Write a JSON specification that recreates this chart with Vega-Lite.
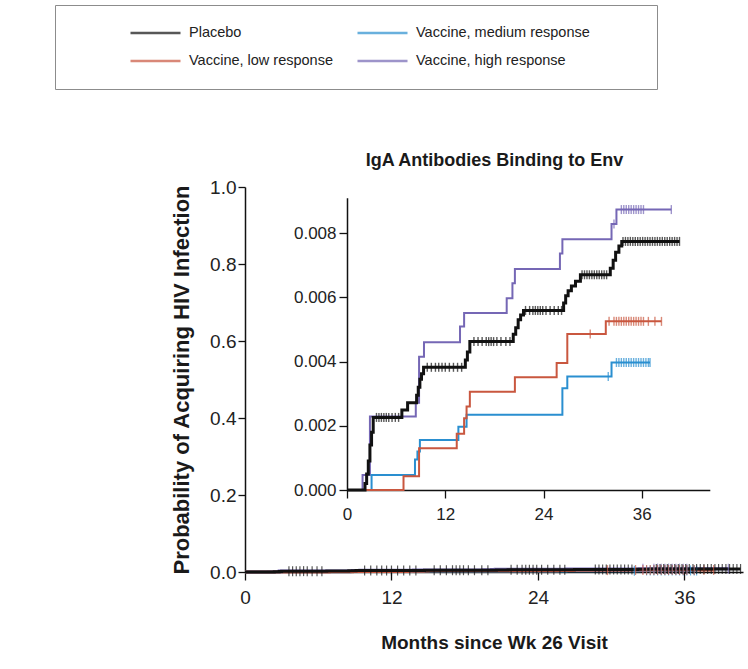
{
  "$schema": "https://vega.github.io/schema/vega-lite/v6.json",
  "width": 498,
  "height": 385,
  "autosize": "none",
  "padding": {"left": 245, "top": 187, "right": 5, "bottom": 97},
  "background": "white",
  "config": {
    "font": "Liberation Sans",
    "view": {"stroke": null},
    "axis": {
      "grid": false,
      "labelFont": "Liberation Sans",
      "titleFont": "Liberation Sans",
      "domainColor": "#111111",
      "tickColor": "#111111",
      "labelColor": "#222222",
      "titleColor": "#1a1a1a",
      "domainWidth": 1.5,
      "tickWidth": 1.3,
      "labelFlush": false,
      "labelOverlap": false
    }
  },
  "datasets": {
    "steps": [
      {"g": "Vaccine, high response", "m": 0, "p": 0},
      {"g": "Vaccine, high response", "m": 1.9, "p": 0.00047},
      {"g": "Vaccine, high response", "m": 2.8, "p": 0.00229},
      {"g": "Vaccine, high response", "m": 8.4, "p": 0.00272},
      {"g": "Vaccine, high response", "m": 8.8, "p": 0.00415},
      {"g": "Vaccine, high response", "m": 9.4, "p": 0.0046},
      {"g": "Vaccine, high response", "m": 13.8, "p": 0.00509},
      {"g": "Vaccine, high response", "m": 14.3, "p": 0.00551},
      {"g": "Vaccine, high response", "m": 19.5, "p": 0.00597},
      {"g": "Vaccine, high response", "m": 20.2, "p": 0.00644},
      {"g": "Vaccine, high response", "m": 20.5, "p": 0.00688},
      {"g": "Vaccine, high response", "m": 26.0, "p": 0.00736},
      {"g": "Vaccine, high response", "m": 26.3, "p": 0.00781},
      {"g": "Vaccine, high response", "m": 32.3, "p": 0.00828},
      {"g": "Vaccine, high response", "m": 32.9, "p": 0.00873},
      {"g": "Vaccine, high response", "m": 39.6, "p": 0.00873},
      {"g": "Vaccine, medium response", "m": 0, "p": 0},
      {"g": "Vaccine, medium response", "m": 3.0, "p": 0.00047},
      {"g": "Vaccine, medium response", "m": 8.3, "p": 0.00095},
      {"g": "Vaccine, medium response", "m": 8.6, "p": 0.0012},
      {"g": "Vaccine, medium response", "m": 8.9, "p": 0.00156},
      {"g": "Vaccine, medium response", "m": 13.6, "p": 0.00197},
      {"g": "Vaccine, medium response", "m": 14.6, "p": 0.00234},
      {"g": "Vaccine, medium response", "m": 26.3, "p": 0.00317},
      {"g": "Vaccine, medium response", "m": 26.9, "p": 0.00353},
      {"g": "Vaccine, medium response", "m": 32.3, "p": 0.00397},
      {"g": "Vaccine, medium response", "m": 37.0, "p": 0.00397},
      {"g": "Vaccine, low response", "m": 0, "p": 0},
      {"g": "Vaccine, low response", "m": 6.9, "p": 0.00043},
      {"g": "Vaccine, low response", "m": 8.8, "p": 0.0013},
      {"g": "Vaccine, low response", "m": 13.4, "p": 0.00175},
      {"g": "Vaccine, low response", "m": 14.3, "p": 0.00223},
      {"g": "Vaccine, low response", "m": 14.6, "p": 0.0026},
      {"g": "Vaccine, low response", "m": 15.0, "p": 0.00306},
      {"g": "Vaccine, low response", "m": 20.5, "p": 0.00351},
      {"g": "Vaccine, low response", "m": 25.6, "p": 0.00395},
      {"g": "Vaccine, low response", "m": 26.9, "p": 0.00486},
      {"g": "Vaccine, low response", "m": 31.6, "p": 0.00525},
      {"g": "Vaccine, low response", "m": 38.4, "p": 0.00525},
      {"g": "Placebo", "m": 0, "p": 0},
      {"g": "Placebo", "m": 2.2, "p": 0.0002},
      {"g": "Placebo", "m": 2.4, "p": 0.0005},
      {"g": "Placebo", "m": 2.6, "p": 0.0009},
      {"g": "Placebo", "m": 2.8, "p": 0.0014},
      {"g": "Placebo", "m": 3.0, "p": 0.0018},
      {"g": "Placebo", "m": 3.2, "p": 0.00226},
      {"g": "Placebo", "m": 6.7, "p": 0.00249},
      {"g": "Placebo", "m": 7.4, "p": 0.00272},
      {"g": "Placebo", "m": 8.5, "p": 0.00295},
      {"g": "Placebo", "m": 8.7, "p": 0.0032},
      {"g": "Placebo", "m": 8.9, "p": 0.00345},
      {"g": "Placebo", "m": 9.1, "p": 0.00362},
      {"g": "Placebo", "m": 9.35, "p": 0.00382},
      {"g": "Placebo", "m": 14.45, "p": 0.00405},
      {"g": "Placebo", "m": 14.7, "p": 0.0043},
      {"g": "Placebo", "m": 15.0, "p": 0.00462},
      {"g": "Placebo", "m": 20.3, "p": 0.00485},
      {"g": "Placebo", "m": 20.6, "p": 0.00505},
      {"g": "Placebo", "m": 20.9, "p": 0.0053},
      {"g": "Placebo", "m": 21.2, "p": 0.00545},
      {"g": "Placebo", "m": 21.55, "p": 0.00559},
      {"g": "Placebo", "m": 26.45, "p": 0.00582},
      {"g": "Placebo", "m": 26.7, "p": 0.00605},
      {"g": "Placebo", "m": 27.0, "p": 0.0062},
      {"g": "Placebo", "m": 27.4, "p": 0.00635},
      {"g": "Placebo", "m": 27.9, "p": 0.0065},
      {"g": "Placebo", "m": 28.5, "p": 0.0067},
      {"g": "Placebo", "m": 32.15, "p": 0.0069},
      {"g": "Placebo", "m": 32.5, "p": 0.00715},
      {"g": "Placebo", "m": 32.8, "p": 0.0074},
      {"g": "Placebo", "m": 33.2, "p": 0.0076},
      {"g": "Placebo", "m": 33.55, "p": 0.00774},
      {"g": "Placebo", "m": 40.6, "p": 0.00774}
    ],
    "censor": [
      {"g": "Vaccine, high response", "m": 32.6, "p": 0.00828},
      {"g": "Vaccine, high response", "m": 33.5, "p": 0.00873},
      {"g": "Vaccine, high response", "m": 33.8, "p": 0.00873},
      {"g": "Vaccine, high response", "m": 34.1, "p": 0.00873},
      {"g": "Vaccine, high response", "m": 34.4, "p": 0.00873},
      {"g": "Vaccine, high response", "m": 34.7, "p": 0.00873},
      {"g": "Vaccine, high response", "m": 35.0, "p": 0.00873},
      {"g": "Vaccine, high response", "m": 35.3, "p": 0.00873},
      {"g": "Vaccine, high response", "m": 35.6, "p": 0.00873},
      {"g": "Vaccine, high response", "m": 35.9, "p": 0.00873},
      {"g": "Vaccine, high response", "m": 36.2, "p": 0.00873},
      {"g": "Vaccine, high response", "m": 39.6, "p": 0.00873},
      {"g": "Vaccine, medium response", "m": 31.9, "p": 0.00353},
      {"g": "Vaccine, medium response", "m": 32.9, "p": 0.00397},
      {"g": "Vaccine, medium response", "m": 33.2, "p": 0.00397},
      {"g": "Vaccine, medium response", "m": 33.5, "p": 0.00397},
      {"g": "Vaccine, medium response", "m": 33.8, "p": 0.00397},
      {"g": "Vaccine, medium response", "m": 34.1, "p": 0.00397},
      {"g": "Vaccine, medium response", "m": 34.4, "p": 0.00397},
      {"g": "Vaccine, medium response", "m": 34.7, "p": 0.00397},
      {"g": "Vaccine, medium response", "m": 35.0, "p": 0.00397},
      {"g": "Vaccine, medium response", "m": 35.3, "p": 0.00397},
      {"g": "Vaccine, medium response", "m": 35.6, "p": 0.00397},
      {"g": "Vaccine, medium response", "m": 35.9, "p": 0.00397},
      {"g": "Vaccine, medium response", "m": 36.2, "p": 0.00397},
      {"g": "Vaccine, medium response", "m": 36.5, "p": 0.00397},
      {"g": "Vaccine, medium response", "m": 36.8, "p": 0.00397},
      {"g": "Vaccine, medium response", "m": 37.0, "p": 0.00397},
      {"g": "Vaccine, low response", "m": 29.7, "p": 0.00486},
      {"g": "Vaccine, low response", "m": 32.0, "p": 0.00525},
      {"g": "Vaccine, low response", "m": 32.6, "p": 0.00525},
      {"g": "Vaccine, low response", "m": 32.9, "p": 0.00525},
      {"g": "Vaccine, low response", "m": 33.2, "p": 0.00525},
      {"g": "Vaccine, low response", "m": 33.5, "p": 0.00525},
      {"g": "Vaccine, low response", "m": 33.8, "p": 0.00525},
      {"g": "Vaccine, low response", "m": 34.1, "p": 0.00525},
      {"g": "Vaccine, low response", "m": 34.4, "p": 0.00525},
      {"g": "Vaccine, low response", "m": 34.7, "p": 0.00525},
      {"g": "Vaccine, low response", "m": 35.0, "p": 0.00525},
      {"g": "Vaccine, low response", "m": 35.3, "p": 0.00525},
      {"g": "Vaccine, low response", "m": 35.6, "p": 0.00525},
      {"g": "Vaccine, low response", "m": 35.9, "p": 0.00525},
      {"g": "Vaccine, low response", "m": 36.2, "p": 0.00525},
      {"g": "Vaccine, low response", "m": 36.8, "p": 0.00525},
      {"g": "Vaccine, low response", "m": 37.6, "p": 0.00525},
      {"g": "Vaccine, low response", "m": 38.4, "p": 0.00525},
      {"g": "Placebo", "m": 3.6, "p": 0.00226},
      {"g": "Placebo", "m": 3.9, "p": 0.00226},
      {"g": "Placebo", "m": 4.2, "p": 0.00226},
      {"g": "Placebo", "m": 4.5, "p": 0.00226},
      {"g": "Placebo", "m": 4.8, "p": 0.00226},
      {"g": "Placebo", "m": 5.1, "p": 0.00226},
      {"g": "Placebo", "m": 5.5, "p": 0.00226},
      {"g": "Placebo", "m": 5.9, "p": 0.00226},
      {"g": "Placebo", "m": 6.3, "p": 0.00226},
      {"g": "Placebo", "m": 9.8, "p": 0.00382},
      {"g": "Placebo", "m": 10.3, "p": 0.00382},
      {"g": "Placebo", "m": 10.8, "p": 0.00382},
      {"g": "Placebo", "m": 11.2, "p": 0.00382},
      {"g": "Placebo", "m": 11.6, "p": 0.00382},
      {"g": "Placebo", "m": 12.0, "p": 0.00382},
      {"g": "Placebo", "m": 12.5, "p": 0.00382},
      {"g": "Placebo", "m": 13.0, "p": 0.00382},
      {"g": "Placebo", "m": 13.5, "p": 0.00382},
      {"g": "Placebo", "m": 14.0, "p": 0.00382},
      {"g": "Placebo", "m": 15.5, "p": 0.00462},
      {"g": "Placebo", "m": 16.0, "p": 0.00462},
      {"g": "Placebo", "m": 16.5, "p": 0.00462},
      {"g": "Placebo", "m": 17.0, "p": 0.00462},
      {"g": "Placebo", "m": 17.3, "p": 0.00462},
      {"g": "Placebo", "m": 17.6, "p": 0.00462},
      {"g": "Placebo", "m": 17.9, "p": 0.00462},
      {"g": "Placebo", "m": 18.3, "p": 0.00462},
      {"g": "Placebo", "m": 18.8, "p": 0.00462},
      {"g": "Placebo", "m": 19.4, "p": 0.00462},
      {"g": "Placebo", "m": 19.9, "p": 0.00462},
      {"g": "Placebo", "m": 21.8, "p": 0.00559},
      {"g": "Placebo", "m": 22.3, "p": 0.00559},
      {"g": "Placebo", "m": 22.7, "p": 0.00559},
      {"g": "Placebo", "m": 23.0, "p": 0.00559},
      {"g": "Placebo", "m": 23.3, "p": 0.00559},
      {"g": "Placebo", "m": 23.6, "p": 0.00559},
      {"g": "Placebo", "m": 23.9, "p": 0.00559},
      {"g": "Placebo", "m": 24.3, "p": 0.00559},
      {"g": "Placebo", "m": 24.8, "p": 0.00559},
      {"g": "Placebo", "m": 25.3, "p": 0.00559},
      {"g": "Placebo", "m": 25.8, "p": 0.00559},
      {"g": "Placebo", "m": 26.2, "p": 0.00559},
      {"g": "Placebo", "m": 28.7, "p": 0.0067},
      {"g": "Placebo", "m": 29.0, "p": 0.0067},
      {"g": "Placebo", "m": 29.3, "p": 0.0067},
      {"g": "Placebo", "m": 29.6, "p": 0.0067},
      {"g": "Placebo", "m": 29.9, "p": 0.0067},
      {"g": "Placebo", "m": 30.2, "p": 0.0067},
      {"g": "Placebo", "m": 30.5, "p": 0.0067},
      {"g": "Placebo", "m": 30.8, "p": 0.0067},
      {"g": "Placebo", "m": 31.1, "p": 0.0067},
      {"g": "Placebo", "m": 31.4, "p": 0.0067},
      {"g": "Placebo", "m": 31.7, "p": 0.0067},
      {"g": "Placebo", "m": 33.7, "p": 0.00774},
      {"g": "Placebo", "m": 34.0, "p": 0.00774},
      {"g": "Placebo", "m": 34.3, "p": 0.00774},
      {"g": "Placebo", "m": 34.6, "p": 0.00774},
      {"g": "Placebo", "m": 34.9, "p": 0.00774},
      {"g": "Placebo", "m": 35.2, "p": 0.00774},
      {"g": "Placebo", "m": 35.5, "p": 0.00774},
      {"g": "Placebo", "m": 35.8, "p": 0.00774},
      {"g": "Placebo", "m": 36.1, "p": 0.00774},
      {"g": "Placebo", "m": 36.4, "p": 0.00774},
      {"g": "Placebo", "m": 36.7, "p": 0.00774},
      {"g": "Placebo", "m": 37.0, "p": 0.00774},
      {"g": "Placebo", "m": 37.3, "p": 0.00774},
      {"g": "Placebo", "m": 37.6, "p": 0.00774},
      {"g": "Placebo", "m": 37.9, "p": 0.00774},
      {"g": "Placebo", "m": 38.2, "p": 0.00774},
      {"g": "Placebo", "m": 38.5, "p": 0.00774},
      {"g": "Placebo", "m": 38.8, "p": 0.00774},
      {"g": "Placebo", "m": 39.1, "p": 0.00774},
      {"g": "Placebo", "m": 39.4, "p": 0.00774},
      {"g": "Placebo", "m": 39.7, "p": 0.00774},
      {"g": "Placebo", "m": 40.0, "p": 0.00774},
      {"g": "Placebo", "m": 40.3, "p": 0.00774},
      {"g": "Placebo", "m": 40.6, "p": 0.00774}
    ]
  },
  "layer": [
    {
      "data": {"name": "steps"},
      "mark": {"type": "line", "interpolate": "step-after", "strokeWidth": 3},
      "encoding": {
        "x": {
          "field": "m", "type": "quantitative",
          "scale": {"domain": [0, 40.8], "nice": false},
          "axis": {
            "values": [0, 12, 24, 36],
            "labelFontSize": 19,
            "tickSize": 8,
            "labelPadding": 8,
            "title": "Months since Wk 26 Visit",
            "titleFontSize": 19,
            "titleFontWeight": "bold",
            "titleX": 249,
            "titleY": 76,
            "titleBaseline": "alphabetic"
          }
        },
        "y": {
          "field": "p", "type": "quantitative",
          "scale": {"domain": [0, 1], "nice": false},
          "axis": {
            "values": [0, 0.2, 0.4, 0.6, 0.8, 1.0],
            "format": ".1f",
            "labelFontSize": 19,
            "tickSize": 7,
            "labelPadding": 2,
            "title": "Probability of Acquiring HIV Infection",
            "titleFontSize": 22,
            "titleFontWeight": "bold",
            "titleX": -57,
            "titleY": 192.5,
            "titleAngle": 270,
            "titleAlign": "center",
            "titleBaseline": "alphabetic"
          }
        },
        "color": {
          "field": "g", "type": "nominal",
          "scale": {
            "domain": ["Placebo", "Vaccine, low response", "Vaccine, medium response", "Vaccine, high response"],
            "range": ["#111111", "#c9573f", "#2a8fd0", "#7567b5"]
          },
          "legend": {
            "orient": "none",
            "legendX": -190,
            "legendY": -182,
            "direction": "vertical",
            "columns": 2,
            "title": "\u200b\u00a0\u00a0\u00a0\u00a0\u00a0\u00a0\u00a0\u00a0\u00a0\u00a0\u00a0\u200b",
            "titleOrient": "left",
            "titlePadding": 0,
            "titleFontSize": 18,
            "strokeColor": "#8c8c8c",
            "padding": 18,
            "clipHeight": 20,
            "symbolType": "stroke",
            "symbolSize": 2500,
            "symbolStrokeWidth": 2.5,
            "labelFont": "Liberation Sans",
            "labelFontSize": 14.5,
            "labelColor": "#222222",
            "labelOffset": 7,
            "labelLimit": 400,
            "columnPadding": 22,
            "rowPadding": 8,
            "labelExpr": "(datum.label == 'Vaccine, medium response' || datum.label == 'Vaccine, high response') ? datum.label + '\u00a0\u00a0\u00a0\u00a0\u00a0\u00a0\u00a0\u00a0\u00a0\u00a0\u00a0\u00a0\u200b' : datum.label"
          }
        }
      }
    },
    {
      "data": {"name": "censor"},
      "mark": {"type": "tick", "orient": "vertical", "size": 10, "thickness": 1.2},
      "encoding": {
        "x": {
          "field": "m", "type": "quantitative",
          "scale": {"domain": [0, 40.8], "nice": false},
          "axis": {
            "orient": "top",
            "domain": false,
            "ticks": false,
            "labels": false,
            "title": "IgA Antibodies Binding to Env",
            "titleFontSize": 18,
            "titleFontWeight": "bold",
            "titleX": 249,
            "titleY": -22,
            "titleAlign": "center",
            "titleBaseline": "alphabetic",
            "titleAngle": 0
          }
        },
        "y": {
          "field": "p", "type": "quantitative",
          "scale": {"domain": [0, 1], "nice": false},
          "axis": null
        },
        "color": {"field": "g", "type": "nominal"}
      }
    },
    {
      "data": {"name": "steps"},
      "mark": {"type": "line", "interpolate": "step-after"},
      "encoding": {
        "x": {
          "field": "m", "type": "quantitative",
          "scale": {"domain": [0, 44.3], "nice": false, "range": [102, 464.8]},
          "axis": {
            "orient": "bottom",
            "offset": -82,
            "values": [0, 12, 24, 36],
            "labelFontSize": 17,
            "tickSize": 8,
            "labelPadding": 8,
            "title": null
          }
        },
        "y": {
          "field": "p", "type": "quantitative",
          "scale": {"domain": [0, 0.0091], "nice": false, "range": [303, 10.7]},
          "axis": {
            "orient": "left",
            "offset": -102,
            "values": [0, 0.002, 0.004, 0.006, 0.008],
            "format": ".3f",
            "labelFontSize": 17,
            "tickSize": 8,
            "labelPadding": 3,
            "title": null
          }
        },
        "strokeWidth": {"condition": {"test": "datum.g == 'Placebo'", "value": 3}, "value": 2},
        "color": {"field": "g", "type": "nominal"}
      }
    },
    {
      "data": {"name": "censor"},
      "mark": {"type": "tick", "orient": "vertical", "size": 9, "thickness": 1.4},
      "encoding": {
        "x": {
          "field": "m", "type": "quantitative",
          "scale": {"domain": [0, 44.3], "nice": false, "range": [102, 464.8]},
          "axis": null
        },
        "y": {
          "field": "p", "type": "quantitative",
          "scale": {"domain": [0, 0.0091], "nice": false, "range": [303, 10.7]},
          "axis": null
        },
        "color": {"field": "g", "type": "nominal"}
      }
    }
  ],
  "resolve": {
    "scale": {"x": "independent", "y": "independent"},
    "axis": {"x": "independent", "y": "independent"}
  }
}
